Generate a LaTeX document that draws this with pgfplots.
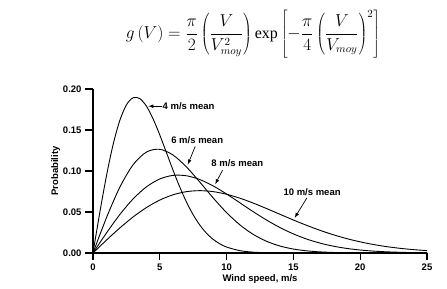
\documentclass[border=0pt]{standalone}
\usepackage{fontspec}
\setmainfont{Liberation Serif}
\setsansfont{Liberation Sans}
\usepackage{pgfplots}
\pgfplotsset{compat=1.18}
\begin{document}
\begin{tikzpicture}
\path[use as bounding box] (-93pt,-36pt) rectangle (354pt,253pt);
\begin{axis}[
  at={(0pt,0pt)}, anchor=origin,
  scale only axis, width=334pt, height=164pt,
  xmin=0, xmax=25, ymin=0, ymax=0.20,
  axis lines*=left,
  axis line style={line width=1.2pt},
  tick align=outside,
  major tick length=7pt,
  xtick style={draw=black, line width=1.2pt},
  ytick style={draw=black, line width=1.2pt},
  xtick={0,5,10,15,20,25},
  ytick={0,0.05,0.10,0.15,0.20},
  yticklabel style={xshift=-1pt, /pgf/number format/.cd, fixed, fixed zerofill, precision=2},
  /pgf/number format/assume math mode=true,
  ticklabel style={font=\sffamily\fontsize{9.5}{11}\selectfont\bfseries},
  xlabel={Wind speed, m/s},
  ylabel={Probability},
  label style={font=\sffamily\fontsize{9.5}{11}\selectfont\bfseries},
  xlabel style={yshift=3pt},
  ylabel style={yshift=-4pt},
  clip=false,
]
\addplot[black, line width=0.9pt, smooth] coordinates {
(0,0) (0.5,0.04849) (1,0.09347) (1.5,0.13186) (2,0.16135) (2.5,0.18060) (3,0.18934)
(3.5,0.18833) (4,0.17905) (4.5,0.16350) (5,0.14389) (5.5,0.12232) (6,0.10062)
(6.5,0.08021) (7,0.06202) (7.5,0.04655) (8,0.03394) (8.5,0.02405) (9,0.01658)
(9.5,0.01111) (10,0.00725) (11,0.00284) (12,0.00100) (13,0.00032) (14,0.00009)
(15,0.00002) (20,0) (25,0)};
\addplot[black, line width=0.9pt, smooth] coordinates {
(0,0) (1,0.04269) (2,0.07997) (3,0.10756) (4,0.12311) (5,0.12645) (6,0.11937)
(7,0.10487) (8,0.08640) (9,0.06708) (10,0.04924) (11,0.03426) (12,0.02263)
(13,0.01421) (14,0.00849) (15,0.00483) (16,0.00262) (17,0.00136) (18,0.00067)
(19,0.00032) (20,0.00014) (22,0.00003) (25,0)};
\addplot[black, line width=0.9pt, smooth] coordinates {
(0,0) (1,0.02424) (2,0.04674) (3,0.06593) (4,0.08067) (5,0.09030) (6,0.09467)
(7,0.09417) (8,0.08952) (9,0.08175) (10,0.07194) (11,0.06116) (12,0.05031)
(13,0.04010) (14,0.03101) (15,0.02328) (16,0.01697) (17,0.01203) (18,0.00829)
(19,0.00556) (20,0.00362) (21,0.00230) (22,0.00142) (23,0.00086) (24,0.00050)
(25,0.00029)};
\addplot[black, line width=0.9pt, smooth] coordinates {
(0,0) (1,0.01559) (2,0.03044) (3,0.04391) (4,0.05541) (5,0.06454) (6,0.07104)
(7,0.07483) (8,0.07602) (9,0.07483) (10,0.07162) (11,0.06680) (12,0.06083)
(13,0.05415) (14,0.04717) (15,0.04025) (16,0.03366) (17,0.02759) (18,0.02219)
(19,0.01752) (20,0.01358) (21,0.01033) (22,0.00772) (23,0.00567) (24,0.00409)
(25,0.00290)};
\pgfplotsinvokeforeach{0,5,10,15,20,25}{
  \draw[black, line width=1.3pt] (axis cs:#1,0) -- ++(0pt,-6pt);
}
\pgfplotsinvokeforeach{0,0.05,0.10,0.15,0.20}{
  \draw[black, line width=1.3pt] (axis cs:0,#1) -- ++(-8pt,0pt);
}
\begin{scope}[every node/.style={font=\sffamily\fontsize{9.5}{11}\selectfont\bfseries, inner sep=0pt}]
\node[anchor=west] at (axis cs:5.2,0.179) {4 m/s mean};
\draw[-latex, line width=0.7pt] (axis cs:5.15,0.179) -- (axis cs:4.15,0.179);
\node at (axis cs:7.8,0.138) {6 m/s mean};
\draw[-latex, line width=0.7pt] (axis cs:7.65,0.130) -- (axis cs:7.1,0.108);
\node at (axis cs:10.8,0.110) {8 m/s mean};
\draw[-latex, line width=0.7pt] (axis cs:9.7,0.101) -- (axis cs:9.15,0.084);
\node at (axis cs:16.4,0.074) {10 m/s mean};
\draw[-latex, line width=0.7pt] (axis cs:16.0,0.067) -- (axis cs:15.1,0.043);
\end{scope}
\end{axis}
\node at (160pt,219pt) {\fontsize{16}{19}\selectfont $\displaystyle g\left(V\right)=\frac{\pi}{2}\left(\frac{V}{V_{moy}^{2}}\right)\mathrm{exp}\left[-\frac{\pi}{4}\left(\frac{V}{V_{moy}}\right)^{2}\right]$};
\end{tikzpicture}
\end{document}
